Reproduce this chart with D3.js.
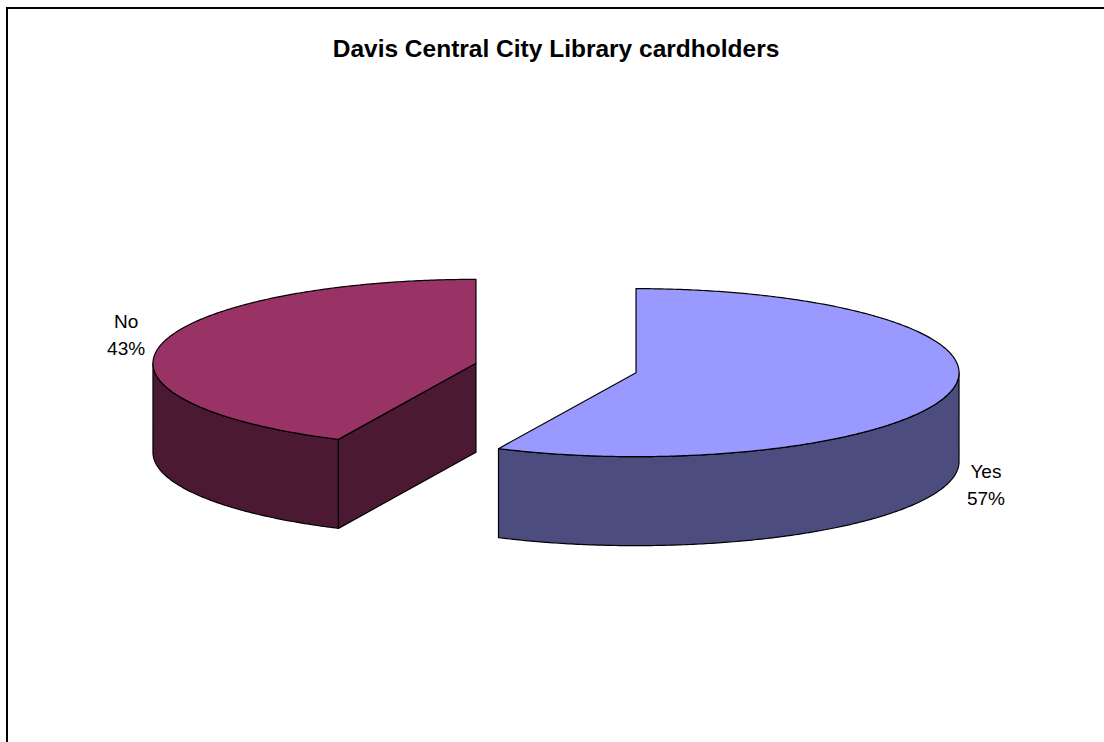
<!DOCTYPE html>
<html>
<head>
<meta charset="utf-8">
<script src="https://cdn.jsdelivr.net/npm/d3@7"></script>
<style>
  html, body { margin: 0; padding: 0; background: #fff; }
  svg { display: block; }
</style>
</head>
<body>
<svg id="chart" width="1104" height="742"></svg>
<script>
// Survey answers
const categories = ["Yes", "No"];
const values = [57, 43];
const percentLabels = ["57%", "43%"];
const topColors = ["#9999FF", "#993366"];
const sideColors = ["#4C4C7F", "#4C1933"];

const W = 1104, H = 742;
const svg = d3.select("#chart");

// Chart frame
svg.append("rect")
  .attr("x", 7).attr("y", 8)
  .attr("width", 1200).attr("height", 900)
  .attr("fill", "#fff")
  .attr("stroke", "#000")
  .attr("stroke-width", 2);

svg.append("text")
  .attr("x", 556).attr("y", 57)
  .attr("text-anchor", "middle")
  .attr("font-family", "Liberation Sans, Arial, sans-serif")
  .attr("font-weight", "bold")
  .attr("font-size", 24.5)
  .text("Davis Central City Library cardholders");

// 3D pie geometry: tilted ellipse, extruded downward
const cx = 556, cy = 368;
const rx = 323, ry = 84;
const depth = 89;
const explode = 82;

const pie = d3.pie().sort(null).value(d => d.value);
const arcs = pie(categories.map((c, i) => ({ cat: c, value: values[i], i })));

// Angle convention: clockwise from 12 o'clock, same as d3.arc
const pt = (ox, oy, a, dz = 0) => [ox + rx * Math.sin(a), oy - ry * Math.cos(a) + dz];
const line = d3.line();

function sample(a0, a1) {
  const n = Math.max(2, Math.ceil(Math.abs(a1 - a0) / 0.01));
  return d3.range(n + 1).map(k => a0 + (a1 - a0) * k / n);
}

const g = svg.append("g");

arcs.forEach(d => {
  const mid = (d.startAngle + d.endAngle) / 2;
  const ox = cx + explode * Math.sin(mid);
  const oy = cy - explode * (ry / rx) * Math.cos(mid);
  const i = d.data.i;
  const slice = g.append("g");

  // Outer curved wall: only the front half (angles PI/2 .. 3PI/2) faces the viewer
  const v0 = Math.max(d.startAngle, Math.PI / 2);
  const v1 = Math.min(d.endAngle, 3 * Math.PI / 2);
  if (v1 > v0) {
    const as = sample(v0, v1);
    const pts = as.map(a => pt(ox, oy, a))
      .concat(as.slice().reverse().map(a => pt(ox, oy, a, depth)));
    slice.append("path")
      .attr("d", line(pts) + "Z")
      .attr("fill", sideColors[i])
      .attr("stroke", "#000").attr("stroke-width", 1.2)
      .attr("stroke-linejoin", "round");
  }

  // Radial cut faces that turn toward the viewer
  [[d.startAngle, -1], [d.endAngle, 1]].forEach(([a, s]) => {
    // outward normal direction of the face
    const na = a + s * Math.PI / 2;
    if (-Math.cos(na) > 1e-6) {
      const p = pt(ox, oy, a);
      const pts = [[ox, oy], p, [p[0], p[1] + depth], [ox, oy + depth]];
      slice.append("path")
        .attr("d", line(pts) + "Z")
        .attr("fill", sideColors[i])
        .attr("stroke", "#000").attr("stroke-width", 1.2)
        .attr("stroke-linejoin", "round");
    }
  });

  // Top face
  const tpts = [[ox, oy]].concat(sample(d.startAngle, d.endAngle).map(a => pt(ox, oy, a)));
  slice.append("path")
    .attr("d", line(tpts) + "Z")
    .attr("fill", topColors[i])
    .attr("stroke", "#000").attr("stroke-width", 1.2)
    .attr("stroke-linejoin", "round");

  // Data label: category name over percentage
  const front = Math.cos(mid) < 0;
  const lx = ox + rx * 1.11 * Math.sin(mid);
  const ly = oy - ry * 1.1 * Math.cos(mid) + (front ? depth : -11);
  const lab = svg.append("text")
    .attr("text-anchor", "middle")
    .attr("font-family", "Liberation Sans, Arial, sans-serif")
    .attr("font-size", 19)
    .attr("fill", "#000");
  lab.append("tspan").attr("x", lx).attr("y", ly - 4).text(d.data.cat);
  lab.append("tspan").attr("x", lx).attr("y", ly + 23).text(percentLabels[i]);
});
</script>
</body>
</html>
